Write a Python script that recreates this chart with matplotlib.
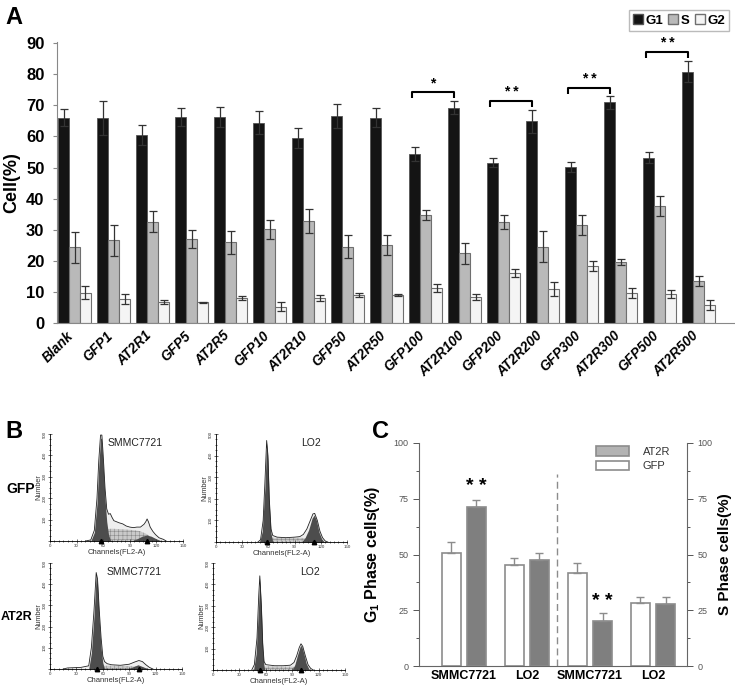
import numpy as np
import matplotlib
matplotlib.use("Agg")
import matplotlib.pyplot as plt
from matplotlib.patches import Patch

plt.rcParams['font.family'] = ['Liberation Sans', 'DejaVu Sans']
plt.rcParams['mathtext.fontset'] = 'custom'
plt.rcParams['mathtext.rm'] = 'Liberation Sans'
plt.rcParams['mathtext.bf'] = 'Liberation Sans:bold'
plt.rcParams['hatch.linewidth'] = 0.4

# ---------------- panel A data ----------------
groups = ["Blank", "GFP1", "AT2R1", "GFP5", "AT2R5", "GFP10", "AT2R10", "GFP50",
          "AT2R50", "GFP100", "AT2R100", "GFP200", "AT2R200", "GFP300", "AT2R300",
          "GFP500", "AT2R500"]
g1 = [66.0, 66.0, 60.6, 66.3, 66.3, 64.5, 59.4, 66.6, 66.1, 54.3, 69.3, 51.6, 64.9,
      50.2, 71.0, 53.2, 80.9]
g1_err = [2.7, 5.5, 3.2, 3.0, 3.1, 3.8, 3.2, 3.9, 3.0, 2.3, 2.2, 1.5, 3.7, 1.5, 2.1, 1.7, 3.4]
s_phase = [24.4, 26.6, 32.6, 27.0, 25.9, 30.1, 32.8, 24.6, 25.0, 34.6, 22.4, 32.5, 24.6,
           31.6, 19.6, 37.6, 13.5]
s_err = [5.0, 4.9, 3.4, 3.0, 3.7, 3.0, 4.0, 3.7, 3.2, 1.6, 3.4, 2.2, 5.0, 3.2, 1.0, 3.2, 1.7]
g2 = [9.8, 7.8, 6.8, 6.6, 8.0, 5.3, 8.0, 8.9, 9.1, 11.3, 8.4, 16.1, 11.0, 18.3, 9.7, 9.4, 5.9]
g2_err = [2.0, 1.6, 0.7, 0.2, 0.6, 1.4, 0.9, 0.6, 0.3, 1.2, 1.0, 1.3, 2.2, 1.7, 1.7, 1.3, 1.6]
# (first group, second group, stars, bracket height)
sig = [(9, 10, "*", 74.3), (11, 12, "* *", 71.5), (13, 14, "* *", 75.6), (15, 16, "* *", 87.1)]

# ---------------- panel B data (channel, relative count) ----------------
hist_tl = {
    "total": ([40, 46, 50, 53, 55, 57, 58.5, 60, 62, 64, 66, 68, 70, 72, 75, 78, 82, 86, 90, 94,
               98, 102, 106, 108, 109.5, 111, 113, 116, 119, 123, 128, 131],
              [0, 1, 10, 40, 75, 99, 99, 80, 50, 30, 25, 25.6, 22, 19, 18, 17, 16, 14, 13, 12.5,
               13, 13, 15.6, 18, 20.6, 18, 13, 9, 6, 3, 1.5, 0]),
    "g1": ([46, 50, 53, 55, 57, 58, 60, 62, 64, 66, 68, 70],
           [0, 8, 35, 70, 96, 96, 70, 40, 18, 6, 1, 0]),
    "s": ([52, 58, 63, 70, 80, 90, 100, 108, 114, 120],
          [0, 6, 11, 11.5, 11, 10.5, 9.5, 7, 3.5, 0]),
    "g2": ([92, 98, 104, 109, 114, 120, 126],
           [0, 2, 4.5, 5.5, 4.5, 2, 0]),
    "peaks": [57.7, 109],
}
hist_tr = {
    "total": ([48, 51, 54, 56, 58, 59.5, 61, 63, 65, 70, 80, 90, 96, 100, 104, 108, 111, 113,
               116, 119, 122, 125, 128],
              [0, 2, 20, 55, 94, 80, 40, 12, 6, 4.5, 4, 4.5, 5, 7, 12, 20, 26, 26.5, 20, 10,
               4, 1, 0]),
    "g1": ([50, 53, 56, 58, 59.5, 61, 63, 65], [0, 10, 50, 92, 75, 35, 8, 0]),
    "s": ([55, 60, 65, 80, 95, 105, 112, 118], [0, 3, 4, 3.8, 4, 3.5, 2, 0]),
    "g2": ([98, 102, 106, 110, 112.5, 115, 118, 121, 124], [0, 4, 11, 22, 25, 20, 9, 3, 0]),
    "peaks": [58.2, 112.5],
}
hist_bl = {
    "total": ([15, 20, 35, 44, 47, 50, 52.5, 54, 56, 58, 60, 62, 65, 70, 80, 90, 96, 101, 105,
               109, 113, 117],
              [0, 1, 1.5, 3, 20, 55, 91, 85, 55, 30, 12, 7, 5, 4, 3.5, 4.5, 6.5, 8, 7, 4, 1.5, 0]),
    "g1": ([44, 47, 50, 52.5, 54, 56, 58, 60, 62], [0, 15, 50, 89, 80, 45, 20, 6, 0]),
    "s": ([48, 55, 60, 70, 85, 95, 105, 112], [0, 2.5, 3, 3.2, 3, 2.5, 1.5, 0]),
    "g2": ([88, 94, 100, 106, 112], [0, 2, 4, 2, 0]),
    "peaks": [53.2, 101.4],
}
hist_br = {
    "total": ([44, 47, 50, 52, 53.2, 55, 56.5, 58, 60, 70, 80, 88, 92, 95, 98, 100, 102, 105,
               108, 111, 114],
              [0, 5, 30, 70, 88, 60, 25, 8, 5, 4, 4, 4.5, 7, 13, 21, 24.5, 22, 13, 5, 1.5, 0]),
    "g1": ([46, 49, 51.5, 53.2, 55, 56.5, 58, 59], [0, 15, 55, 86, 55, 20, 3, 0]),
    "s": ([50, 56, 62, 75, 90, 97, 103], [0, 3, 3.5, 3.2, 3.2, 2, 0]),
    "g2": ([90, 93, 96, 99, 100.5, 103, 106, 109, 111], [0, 5, 14, 22, 23, 16, 6, 1, 0]),
    "peaks": [53.2, 99.9],
}

# ---------------- panel C data ----------------
c_labels = ["SMMC7721", "LO2", "SMMC7721", "LO2"]
c_gfp = [50.6, 45.4, 41.6, 28.4]
c_gfp_err = [4.8, 3.0, 4.5, 2.7]
c_at2r = [71.3, 47.5, 20.4, 27.8]
c_at2r_err = [3.3, 3.1, 3.3, 3.0]

W, H = 735, 687
fig = plt.figure(figsize=(W / 100, H / 100), dpi=100)


def box(l, t, r, b):
    return [l / W, 1 - b / H, (r - l) / W, (b - t) / H]


# ================= panel A =================
ax = fig.add_axes(box(57, 42, 734, 323))
x = np.arange(len(groups))
w = 0.28
ekw = dict(ecolor="#333333", capsize=3, elinewidth=0.9, capthick=0.9)
ax.bar(x - w, g1, w, yerr=g1_err, color="#141414", edgecolor="#555555", lw=0.6, error_kw=ekw)
ax.bar(x, s_phase, w, yerr=s_err, color="#b9b9b9", edgecolor="#6f6f6f", lw=0.8, error_kw=ekw)
ax.bar(x + w, g2, w, yerr=g2_err, color="#f4f4f4", edgecolor="#6f6f6f", lw=0.8, error_kw=ekw)

for i, j, stars, yb in sig:
    xa, xb = x[i] - w - 0.07, x[j] - w
    ax.plot([xa, xa, xb, xb], [yb - 1.9, yb, yb, yb - 1.9], color="black", lw=1.5,
            solid_capstyle="butt")
    ax.text((xa + xb) / 2, yb + 0.6, stars, ha="center", va="bottom", fontsize=10,
            fontweight="bold")

ax.set_xlim(-0.45, 16.9)
ax.set_ylim(0, 90.4)
ax.set_yticks(np.arange(0, 91, 10))
ax.set_xticks(x - 0.2)
ax.set_xticklabels(groups, rotation=45, ha="right", va="top", rotation_mode="anchor",
                   fontsize=9.8, fontweight="bold", fontstyle="italic")
for lab in ax.get_yticklabels():
    lab.set_fontweight("bold")
    lab.set_fontsize(12)
ax.tick_params(axis="x", length=0, pad=4)
ax.tick_params(axis="y", length=3, color="#888888", pad=6)
for sp in ["top", "right"]:
    ax.spines[sp].set_visible(False)
for sp in ["left", "bottom"]:
    ax.spines[sp].set_color("#888888")
ax.set_ylabel("Cell(%)", fontsize=13, fontweight="bold", labelpad=4)

leg_a = fig.legend(
    handles=[Patch(facecolor="#141414", edgecolor="#555555", label="G1"),
             Patch(facecolor="#b9b9b9", edgecolor="#6f6f6f", label="S"),
             Patch(facecolor="#f4f4f4", edgecolor="#6f6f6f", label="G2")],
    loc="upper right", bbox_to_anchor=(729 / W, 1 - 10 / H), ncol=3, fancybox=False,
    edgecolor="#aaaaaa", prop=dict(weight="bold", size=9.5), handlelength=0.75,
    handleheight=0.8, handletextpad=0.2, columnspacing=0.4, borderpad=0.3, borderaxespad=0)
leg_a.get_frame().set_linewidth(1.0)

fig.text(5 / W, 1 - 17 / H, "A", fontsize=17, fontweight="bold", va="center")

# ================= panel B =================
hist_axes = [
    (box(50, 434, 183, 541), hist_tl, "SMMC7721", 127),
    (box(216, 434, 347, 542), hist_tr, "LO2", 120),
    (box(50, 563, 182, 669), hist_bl, "SMMC7721", 127),
    (box(213, 563, 345, 670), hist_br, "LO2", 121),
]
for rect, hd, title, tx in hist_axes:
    hx = fig.add_axes(rect)
    tch, tct = hd["total"]
    hx.fill_between(tch, tct, color="#eeeeee", lw=0)
    sch, sct = hd["s"]
    hx.fill_between(sch, sct, facecolor="#c9c9c9", edgecolor="#8a8a8a", hatch="++++", lw=0)
    for key in ["g1", "g2"]:
        cch, cct = hd[key]
        hx.fill_between(cch, cct, color="#4d4d4d", lw=0)
    hx.plot(tch, tct, color="#222222", lw=0.6)
    hx.plot(hd["peaks"], [0, 0], "^", color="black", ms=3.2, clip_on=False, zorder=5)
    hx.set_xlim(0, 150)
    hx.set_ylim(0, 100)
    hx.set_xticks(np.arange(0, 151, 30))
    hx.set_xticks(np.arange(0, 151, 5), minor=True)
    hx.set_yticks(np.arange(0, 101, 20))
    hx.set_yticks(np.arange(0, 101, 5), minor=True)
    hx.set_yticklabels(["", "100", "200", "300", "400", "500"], rotation=90, va="center")
    hx.tick_params(which="both", direction="inout", width=0.5, labelsize=3.2, pad=1,
                   colors="#333333")
    hx.tick_params(which="major", length=3)
    hx.tick_params(which="minor", length=1.8)
    for sp in ["top", "right"]:
        hx.spines[sp].set_visible(False)
    for sp in ["left", "bottom"]:
        hx.spines[sp].set_linewidth(0.6)
    hx.set_xlabel("Channels(FL2-A)", fontsize=5.5, labelpad=0.5, color="#333333")
    hx.set_ylabel("Number", fontsize=5.2, labelpad=0, color="#333333")
    hx.text(tx, 96, title, ha="right", va="top", fontsize=7.5, color="#222222")

fig.text(5 / W, 1 - 431 / H, "B", fontsize=17, fontweight="bold", va="center")
fig.text(6 / W, 1 - 489 / H, "GFP", fontsize=10, fontweight="bold", va="center")
fig.text(1 / W, 1 - 617 / H, "AT2R", fontsize=9, fontweight="bold", va="center")

# ================= panel C =================
cx = fig.add_axes(box(419, 443, 687, 666))
xc = np.arange(len(c_labels))
bw = 0.3
cekw = dict(capsize=3, elinewidth=1.0, capthick=1.0)
cx.bar(xc - 0.2, c_gfp, bw, yerr=[np.zeros(4), c_gfp_err], color="white",
       edgecolor="#8c8c8c", lw=1.2, error_kw=dict(ecolor="#8c8c8c", **cekw))
cx.bar(xc + 0.2, c_at2r, bw, yerr=[np.zeros(4), c_at2r_err], color="#7f7f7f",
       edgecolor="#8c8c8c", lw=1.2, error_kw=dict(ecolor="#8c8c8c", **cekw))
cx.text(xc[0] + 0.2, 76.5, "* *", ha="center", va="bottom", fontsize=14, fontweight="bold")
cx.text(xc[2] + 0.2, 25.3, "* *", ha="center", va="bottom", fontsize=14, fontweight="bold")
cx.plot([1.476, 1.476], [0, 86], ls=(0, (5, 3)), color="#8c8c8c", lw=1.0)

cx.set_xlim(-0.71, 3.54)
cx.set_ylim(0, 100)
cx.set_yticks(np.arange(0, 101, 25))
cx.set_yticks(np.arange(0, 101, 12.5), minor=True)
cx.set_xticks(xc)
cx.set_xticklabels(c_labels, fontsize=9, fontweight="bold")
cx.tick_params(axis="x", length=0, pad=3)
cx.tick_params(axis="y", which="both", direction="out", labelsize=6.5, colors="#555555",
               width=0.7)
cx.tick_params(axis="y", which="major", length=4)
cx.tick_params(axis="y", which="minor", length=2.5)
for lab in cx.get_xticklabels():
    lab.set_color("black")
for sp in ["top", "right"]:
    cx.spines[sp].set_visible(False)
for sp in ["left", "bottom"]:
    cx.spines[sp].set_color("#666666")
cx.set_ylabel(r"G$_\mathbf{1}$ Phase cells(%)", fontsize=11.5, fontweight="bold", labelpad=8)

cx2 = cx.twinx()
cx2.set_ylim(0, 100)
cx2.set_yticks(np.arange(0, 101, 25))
cx2.set_yticks(np.arange(0, 101, 12.5), minor=True)
cx2.tick_params(axis="y", which="both", direction="out", labelsize=6.5, colors="#555555",
                width=0.7)
cx2.tick_params(axis="y", which="major", length=4)
cx2.tick_params(axis="y", which="minor", length=2.5)
for sp in ["top", "left", "bottom"]:
    cx2.spines[sp].set_visible(False)
cx2.spines["right"].set_color("#666666")
cx2.set_ylabel("S Phase cells(%)", fontsize=11, fontweight="bold", rotation=90, labelpad=4)

cx.legend(handles=[Patch(facecolor="#b3b3b3", edgecolor="#8c8c8c", lw=1.2, label="AT2R"),
                   Patch(facecolor="white", edgecolor="#8c8c8c", lw=1.2, label="GFP")],
          loc="upper left", bbox_to_anchor=(0.66, 0.985), frameon=False, fontsize=8,
          handlelength=3.0, handleheight=0.9, handletextpad=1.2, labelspacing=0.35,
          borderpad=0, borderaxespad=0, labelcolor="#333333")

fig.text(372 / W, 1 - 431 / H, "C", fontsize=17, fontweight="bold", va="center")

fig.savefig("out.png", dpi=100)
